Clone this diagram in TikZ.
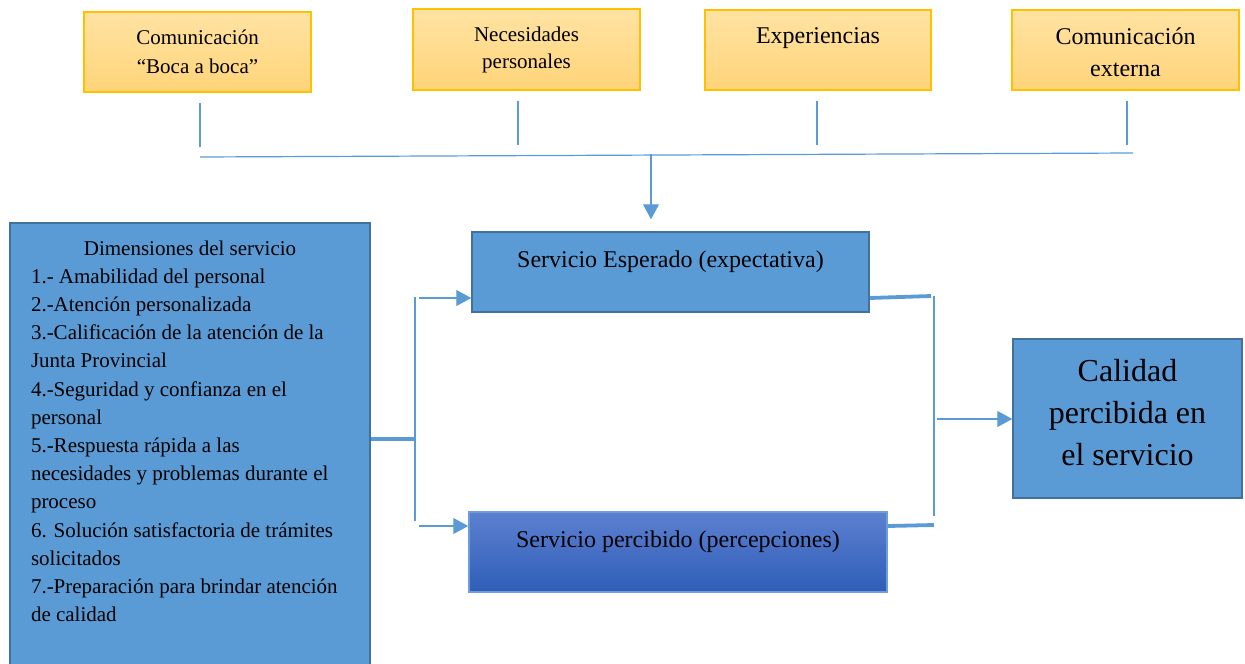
\documentclass[tikz,border=0pt]{standalone}
\usepackage{fontspec}
\setmainfont{Liberation Serif}
\usetikzlibrary{arrows.meta}

\definecolor{ytop}{HTML}{FFE3A3}
\definecolor{ybot}{HTML}{FFD479}
\definecolor{boxgold}{HTML}{FFC000}
\definecolor{bluefill}{HTML}{5B9BD5}
\definecolor{blueedge}{HTML}{41719C}
\definecolor{pertop}{HTML}{5C80D0}
\definecolor{perbot}{HTML}{2F5EB8}
\definecolor{peredge}{HTML}{6C9FDA}
\definecolor{linkblue}{HTML}{5B9BD5}

% text box: width, height, first baseline, text
\newcommand{\boxtext}[4]{\begin{minipage}[t][#2][t]{#1}\centering\rule{0pt}{#3}#4\end{minipage}}

\begin{document}
\begin{tikzpicture}[x=1pt,y=-1pt,
    topbox/.style={draw=boxgold, line width=1.2pt, top color=ytop, bottom color=ybot, inner sep=0pt},
    bluebox/.style={draw=blueedge, line width=1.5pt, fill=bluefill, inner sep=0pt},
    link/.style={draw=linkblue, line width=1.2pt},
    thicklink/.style={draw=linkblue, line width=3.8pt},
    arrow/.style={link, -{Triangle[width=16pt,length=15pt]}}]
        \useasboundingbox (0,0) rectangle (1245,664);

        % sources of the expectation
        \node[topbox, font=\fontsize{21}{29}\selectfont] (boca) at (197.5,52) {\boxtext{227pt}{80pt}{32pt}{Comunicación\\“Boca a boca”}};
        \node[topbox, font=\fontsize{21}{27}\selectfont] (nec) at (526.5,49.5) {\boxtext{227pt}{81pt}{32pt}{Necesidades\\personales}};
        \node[topbox, font=\fontsize{24}{30}\selectfont] (exper) at (818,50) {\boxtext{226pt}{80pt}{33pt}{Experiencias}};
        \node[topbox, font=\fontsize{24}{32}\selectfont] (cext) at (1125.5,50) {\boxtext{227pt}{80pt}{34pt}{Comunicación\\externa}};

        \draw[link] ([xshift=2.5pt,yshift=-10pt]boca.south) -- ++(0,44);
        \draw[link] ([xshift=-8.5pt,yshift=-10pt]nec.south) -- ++(0,44);
        \draw[link] ([xshift=-1pt,yshift=-10pt]exper.south) -- ++(0,44);
        \draw[link] ([xshift=1.5pt,yshift=-10pt]cext.south) -- ++(0,44);

        \coordinate (busL) at (200,157);
        \coordinate (busR) at (1133,153);
        \coordinate (busM) at (651,154);
        \draw[link] (busL) -- (busR);

        % main boxes
        \node[bluebox, inner xsep=21pt, font=\fontsize{21}{28.2}\selectfont] (dim) at (190,446.5) {%
            \begin{minipage}[t][447pt][t]{318pt}
            {\centering\rule{0pt}{32pt}Dimensiones del servicio\par}
            \raggedright
            1.- Amabilidad del personal\\
            2.-Atención personalizada\\
            3.-Calificación de la atención de la\\
            Junta Provincial\\
            4.-Seguridad y confianza en el\\
            personal\\
            5.-Respuesta rápida a las\\
            necesidades y problemas durante el\\
            proceso\\
            6. Solución satisfactoria de trámites\\
            solicitados\\
            7.-Preparación para brindar atención\\
            de calidad
            \end{minipage}};
        \node[bluebox, font=\fontsize{24}{30}\selectfont] (esp) at (670.5,272) {\boxtext{397pt}{80pt}{35pt}{Servicio Esperado (expectativa)}};
        \node[bluebox, draw=peredge, top color=pertop, bottom color=perbot] (per) at (678,552) {\fontsize{24}{30}\selectfont\boxtext{418pt}{80pt}{35pt}{Servicio percibido (percepciones)}};
        \node[bluebox, font=\fontsize{32}{42}\selectfont] (cal) at (1127.5,418.5) {\boxtext{229pt}{159pt}{42pt}{Calidad\\percibida en\\el servicio}};

        \coordinate (espTop) at ([yshift=12pt]esp.north);
        \draw[arrow] (busM) -- (espTop -| busM);

        % left fork
        \coordinate (forkL) at (415,439);
        \coordinate (forkT) at (415,297);
        \coordinate (forkB) at (415,521);
        \coordinate (inT) at (419,298);
        \coordinate (inB) at (419,526);
        \draw[thicklink] (dim.east |- forkL) -- (forkL);
        \draw[link] (forkT) -- (forkB);
        \draw[arrow] (inT) -- (inT -| esp.west);
        \draw[arrow] (inB) -- (inB -| per.west);

        % right join
        \coordinate (joinT) at (931,296);
        \coordinate (joinB) at (934,525);
        \coordinate (out) at (937,419);
        \draw[thicklink] ([yshift=-26pt]esp.east) -- (joinT);
        \draw[thicklink] ([yshift=26pt]per.east) -- (joinB);
        \draw[link] (934,296) -- (934,516);
        \draw[arrow] (out) -- (out -| cal.west);
    \end{tikzpicture}
\end{document}
